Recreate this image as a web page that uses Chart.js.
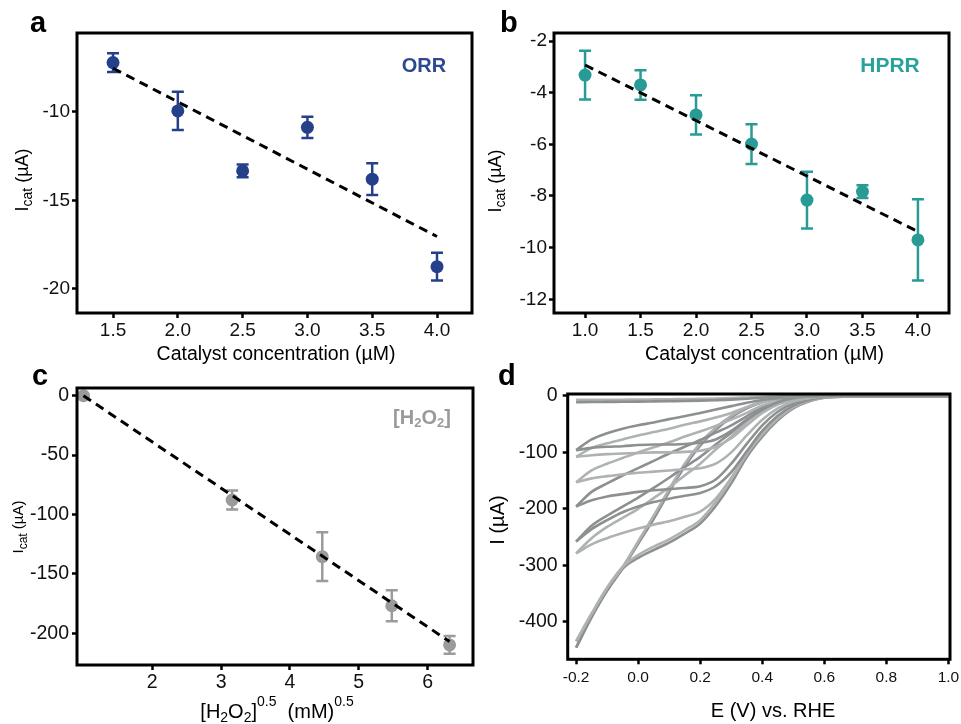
<!DOCTYPE html>
<html lang="en">
<head>
<meta charset="UTF-8">
<title>Catalytic current panels</title>
<script src="https://cdn.jsdelivr.net/npm/chart.js"></script>
<style>
    body { margin: 0; background: #fff; }
    #wrap { position: relative; width: 961px; height: 724px; }
    canvas { position: absolute; }
</style>
</head>
<body>
<div id="wrap">
    <canvas id="chartA" width="480" height="370" style="left:0;top:0"></canvas>
    <canvas id="chartB" width="481" height="370" style="left:480px;top:0"></canvas>
    <canvas id="chartC" width="480" height="362" style="left:0;top:362px"></canvas>
    <canvas id="chartD" width="481" height="362" style="left:480px;top:362px"></canvas>
</div>
<script>
const FONT = '"Liberation Sans", Arial, sans-serif';

// ---- panel a : ORR ----
const concA = [1.5, 2.0, 2.5, 3.0, 3.5, 4.0];
const icatA = [-7.21, -9.94, -13.33, -10.87, -13.80, -18.74];
const errA = [0.53, 1.08, 0.36, 0.6, 0.9, 0.78];
const fitXA = [1.5, 4.0];
const fitYA = [-7.53, -17.04];
const xTicksA = [1.5, 2.0, 2.5, 3.0, 3.5, 4.0];
const yTicksA = [-10, -15, -20];

// ---- panel b : HPRR ----
const concB = [1.0, 1.5, 2.0, 2.5, 3.0, 3.5, 4.0];
const icatB = [-3.32, -3.70, -4.86, -5.99, -8.16, -7.83, -9.70];
const errB = [0.94, 0.57, 0.76, 0.77, 1.1, 0.25, 1.57];
const fitXB = [1.0, 4.0];
const fitYB = [-2.93, -9.38];
const xTicksB = [1.0, 1.5, 2.0, 2.5, 3.0, 3.5, 4.0];
const yTicksB = [-2, -4, -6, -8, -10, -12];

// ---- panel c : [H2O2]^0.5 ----
const sqrtH2O2 = [1.0, 3.16, 4.47, 5.48, 6.32];
const icatC = [0, -87.8, -135.5, -176.8, -209.8];
const errC = [1, 8, 20.5, 13, 7.5];
const fitXC = [1.0, 6.32];
const fitYC = [0, -207];
const xTicksC = [2, 3, 4, 5, 6];
const yTicksC = [0, -50, -100, -150, -200];

// ---- panel d : cyclic voltammograms ----
const cvE = [-0.2, -0.15, -0.1, -0.05, 0, 0.05, 0.1, 0.15, 0.2, 0.25, 0.3, 0.35, 0.4, 0.45, 0.5, 0.55, 0.6, 0.8, 1.0];
const blankFwd = [-11, -10.8, -10.5, -10.2, -10, -9.6, -9.2, -8.8, -8.3, -7.5, -6.5, -5, -3, -1.5, -0.5, 0, 0, 0, 0];
const blankRev = [-7, -7, -6.8, -6.6, -6.4, -6.1, -5.8, -5.4, -5, -4.4, -3.6, -2.7, -1.8, -1, -0.5, 0, 0, 0, 0];
const cv1DarkFwd = [-96, -92, -90, -89, -87, -86, -86, -85, -83, -77, -62, -42, -24, -11, -4, -1, 0, 0, 0];
const cv1DarkRev = [-96, -77, -66, -58, -52, -47, -41, -36, -30, -24, -18, -12, -7, -4, -2, -1, 0, 0, 0];
const cv1LightFwd = [-108, -105, -103, -102, -101, -100, -100, -99, -97, -90, -75, -52, -30, -15, -7, -3, -1, 0, 0];
const cv1LightRev = [-108, -92, -84, -77, -70, -64, -58, -51, -45, -38, -30, -20, -11, -5, -2, -1, 0, 0, 0];
const cv2LightFwd = [-153, -146, -142, -139, -136, -134, -132, -130, -128, -120, -100, -70, -42, -22, -10, -4, -1, 0, 0];
const cv2LightRev = [-153, -132, -120, -110, -100, -91, -82, -72, -63, -53, -42, -30, -17, -9, -4, -1, 0, 0, 0];
const cv2DarkFwd = [-196, -185, -178, -174, -170, -167, -165, -163, -160, -148, -120, -85, -52, -28, -13, -5, -1, 0, 0];
const cv2DarkRev = [-196, -170, -155, -141, -128, -115, -102, -90, -78, -65, -52, -36, -20, -10, -5, -2, 0, 0, 0];
const cv3DarkFwd = [-258, -236, -220, -206, -196, -188, -182, -177, -172, -160, -135, -98, -62, -35, -17, -7, -2, 0, 0];
const cv3DarkRev = [-258, -230, -212, -196, -180, -163, -145, -126, -108, -86, -65, -42, -24, -12, -6, -2, 0, 0, 0];
const cv3LightFwd = [-279, -263, -252, -243, -235, -228, -222, -214, -205, -182, -145, -102, -66, -38, -19, -8, -2, 0, 0];
const cv3LightRev = [-279, -252, -232, -216, -200, -181, -162, -141, -120, -95, -72, -46, -26, -13, -7, -2, 0, 0, 0];
const cv4LightFwd = [-435, -386, -340, -303, -282, -267, -254, -238, -220, -188, -148, -103, -68, -40, -20, -9, -3, 0, 0];
const cv4LightRev = [-435, -386, -340, -303, -258, -212, -165, -120, -84, -56, -35, -20, -10, -5, -2, -1, 0, 0, 0];
const cv4DarkFwd = [-446, -392, -345, -306, -287, -273, -260, -244, -226, -195, -155, -108, -72, -43, -22, -10, -3, 0, 0];
const cv4DarkRev = [-446, -392, -345, -306, -262, -218, -170, -125, -88, -60, -38, -22, -11, -5, -3, -1, 0, 0, 0];
const xTicksD = [-0.2, 0, 0.2, 0.4, 0.6, 0.8, 1.0];
const yTicksD = [0, -100, -200, -300, -400];

const NAVY = '#25408b';
const TEAL = '#289b96';
const GREY = '#9b9b9b';
const CV_DARK = '#8d9091';
const CV_LIGHT = '#aeb2b2';

// draw a run of text pieces: [text, size, dy, weight]
function drawRich(ctx, parts, x, y, align) {
    let w = 0;
    parts.forEach(p => {
        ctx.font = (p[3] || 'normal') + ' ' + p[1] + 'px ' + FONT;
        w += ctx.measureText(p[0]).width;
    });
    let cx = align === 'center' ? x - w / 2 : x;
    parts.forEach(p => {
        ctx.font = (p[3] || 'normal') + ' ' + p[1] + 'px ' + FONT;
        ctx.fillText(p[0], cx, y + (p[2] || 0));
        cx += ctx.measureText(p[0]).width;
    });
}

const decor = {
    id: 'decor',
    beforeDatasetsDraw(chart, args, opts) {
        if (!opts.err) return;
        const ctx = chart.ctx, xs = chart.scales.x, ys = chart.scales.y;
        const e = opts.err;
        ctx.save();
        ctx.strokeStyle = e.color;
        ctx.lineWidth = 2.5;
        e.x.forEach((xv, i) => {
            const px = xs.getPixelForValue(xv);
            const top = ys.getPixelForValue(e.y[i] + e.e[i]);
            const bot = ys.getPixelForValue(e.y[i] - e.e[i]);
            ctx.beginPath();
            ctx.moveTo(px, top); ctx.lineTo(px, bot);
            ctx.moveTo(px - 6, top); ctx.lineTo(px + 6, top);
            ctx.moveTo(px - 6, bot); ctx.lineTo(px + 6, bot);
            ctx.stroke();
        });
        ctx.restore();
    },
    afterDraw(chart, args, opts) {
        const ctx = chart.ctx, a = chart.chartArea;
        ctx.save();
        ctx.strokeStyle = '#000';
        ctx.lineWidth = 3;
        ctx.strokeRect(a.left, a.top, a.right - a.left, a.bottom - a.top);
        ctx.textBaseline = 'alphabetic';
        ctx.fillStyle = '#000';
        ctx.font = 'bold 29px ' + FONT;
        ctx.fillText(opts.letter[0], opts.letter[1], opts.letter[2]);
        if (opts.tag) {
            ctx.fillStyle = opts.tag.color;
            drawRich(ctx, opts.tag.parts, opts.tag.x, opts.tag.y, 'center');
        }
        ctx.fillStyle = '#000';
        drawRich(ctx, opts.xTitle.parts, opts.xTitle.x, opts.xTitle.y, 'center');
        ctx.translate(opts.yTitle.x, opts.yTitle.y);
        ctx.rotate(-Math.PI / 2);
        drawRich(ctx, opts.yTitle.parts, 0, opts.yTitle.dy, 'center');
        ctx.restore();
    }
};

function axes(o) {
    const grid = { display: true, drawOnChartArea: false, drawTicks: true, tickLength: 5, tickWidth: 2.5, tickColor: '#000' };
    return {
        x: {
            type: 'linear', min: o.xmin, max: o.xmax,
            afterBuildTicks: s => { s.ticks = o.xticks.map(v => ({ value: v })); },
            afterFit: s => { s.height = o.xh; s.paddingLeft = 0; s.paddingRight = 0; },
            ticks: { callback: o.xfmt, color: '#111', font: { family: FONT, size: o.xfs }, padding: o.xpad, maxRotation: 0, autoSkip: false },
            grid: grid,
            border: { display: false }
        },
        y: {
            type: 'linear', min: o.ymin, max: o.ymax,
            afterBuildTicks: s => { s.ticks = o.yticks.map(v => ({ value: v })); },
            afterFit: s => { s.width = o.yw; s.paddingTop = 0; s.paddingBottom = 0; },
            ticks: { callback: v => String(v), color: '#111', font: { family: FONT, size: o.yfs }, padding: o.ypad, autoSkip: false },
            grid: grid,
            border: { display: false }
        }
    };
}

function pts(xs, ys) { return xs.map((x, i) => ({ x: x, y: ys[i] })); }

function errorChart(id, o) {
    return new Chart(document.getElementById(id), {
        type: 'scatter',
        data: {
            datasets: [
                { data: pts(o.fitX, o.fitY), showLine: true, borderColor: '#000', borderWidth: 3, borderDash: [9, 6], pointRadius: 0 },
                { data: pts(o.x, o.y), pointRadius: 6.5, pointBackgroundColor: o.color, pointBorderColor: o.color, pointBorderWidth: 0 }
            ]
        },
        options: {
            responsive: false, animation: false,
            layout: { padding: { left: 0, bottom: 0, top: o.top, right: o.right } },
            scales: axes(o),
            plugins: {
                legend: { display: false }, tooltip: { enabled: false },
                decor: { err: { x: o.x, y: o.y, e: o.err, color: o.color }, letter: o.letter, tag: o.tag, xTitle: o.xTitle, yTitle: o.yTitle }
            }
        },
        plugins: [decor]
    });
}

const fmt1 = v => v.toFixed(1);
const icatTitle = (s, sub) => [['I', s, 0], ['cat', sub, 4], [' (\u00b5A)', s, 0]];

errorChart('chartA', {
    x: concA, y: icatA, err: errA, fitX: fitXA, fitY: fitYA, color: NAVY,
    xmin: 1.222, xmax: 4.27, ymin: -21.36, ymax: -5.54, xticks: xTicksA, yticks: yTicksA,
    xfmt: fmt1, xfs: 19, yfs: 19, xpad: 1, ypad: 2, xh: 370 - 313, yw: 77, top: 33, right: 480 - 472,
    letter: ['a', 30, 32],
    tag: { color: '#2d4a90', x: 424, y: 72, parts: [['ORR', 20, 0, 'bold']] },
    xTitle: { x: 276, y: 360, parts: [['Catalyst concentration (\u00b5M)', 19.5, 0]] },
    yTitle: { x: 22, y: 180, dy: 6, parts: icatTitle(18, 14) }
});

errorChart('chartB', {
    x: concB, y: icatB, err: errB, fitX: fitXB, fitY: fitYB, color: TEAL,
    xmin: 0.72, xmax: 4.28, ymin: -12.53, ymax: -1.69, xticks: xTicksB, yticks: yTicksB,
    xfmt: fmt1, xfs: 19, yfs: 19, xpad: 1, ypad: 2, xh: 370 - 313, yw: 74, top: 33, right: 481 - 469,
    letter: ['b', 20, 32],
    tag: { color: '#2aa29c', x: 410, y: 72, parts: [['HPRR', 21, 0, 'bold']] },
    xTitle: { x: 284.5, y: 360, parts: [['Catalyst concentration (\u00b5M)', 19.5, 0]] },
    yTitle: { x: 15, y: 181, dy: 6, parts: icatTitle(18, 14) }
});

errorChart('chartC', {
    x: sqrtH2O2, y: icatC, err: errC, fitX: fitXC, fitY: fitYC, color: GREY,
    xmin: 0.906, xmax: 6.66, ymin: -226.7, ymax: 6.5, xticks: xTicksC, yticks: yTicksC,
    xfmt: v => String(v), xfs: 19.5, yfs: 19.5, xpad: 1, ypad: 3, xh: 362 - 303, yw: 77, top: 26, right: 480 - 473,
    letter: ['c', 32, 23],
    tag: { color: '#9a9a9a', x: 422, y: 62, parts: [['[H', 20, 0, 'bold'], ['2', 13, 3, 'bold'], ['O', 20, 0, 'bold'], ['2', 13, 3, 'bold'], [']', 20, 0, 'bold']] },
    xTitle: { x: 277, y: 356, parts: [['[H', 20, 0], ['2', 14, 4], ['O', 20, 0], ['2', 14, 4], [']', 20, 0], ['0.5', 14, -12], ['  (mM)', 20, 0], ['0.5', 14, -12]] },
    yTitle: { x: 18, y: 165, dy: 5, parts: icatTitle(15, 12) }
});

// panel d
const cvBranches = [
    [blankFwd, CV_DARK], [blankRev, CV_LIGHT],
    [cv1DarkFwd, CV_DARK], [cv1DarkRev, CV_DARK],
    [cv1LightFwd, CV_LIGHT], [cv1LightRev, CV_LIGHT],
    [cv2LightFwd, CV_LIGHT], [cv2LightRev, CV_LIGHT],
    [cv2DarkFwd, CV_DARK], [cv2DarkRev, CV_DARK],
    [cv3DarkFwd, CV_DARK], [cv3DarkRev, CV_DARK],
    [cv3LightFwd, CV_LIGHT], [cv3LightRev, CV_LIGHT],
    [cv4LightFwd, CV_LIGHT], [cv4LightRev, CV_LIGHT],
    [cv4DarkFwd, CV_DARK], [cv4DarkRev, CV_DARK]
];

const optsD = {
    xmin: -0.227, xmax: 1.005, ymin: -466.7, ymax: 3.5, xticks: xTicksD, yticks: yTicksD,
    xfmt: fmt1, xfs: 15.5, yfs: 19.5, xpad: 4, ypad: 5, xh: 362 - 297.3, yw: 87.7
};

new Chart(document.getElementById('chartD'), {
    type: 'scatter',
    data: {
        datasets: cvBranches.map(b => ({
            data: pts(cvE, b[0]), showLine: true, borderColor: b[1], borderWidth: 2.6,
            pointRadius: 0, cubicInterpolationMode: 'monotone'
        }))
    },
    options: {
        responsive: false, animation: false,
        layout: { padding: { left: 0, bottom: 0, top: 32, right: 481 - 470 } },
        scales: axes(optsD),
        plugins: {
            legend: { display: false }, tooltip: { enabled: false },
            decor: {
                letter: ['d', 18, 23],
                xTitle: { x: 293, y: 355, parts: [['E (V) vs. RHE', 20, 0]] },
                yTitle: { x: 17, y: 158, dy: 7, parts: [['I (\u00b5A)', 20, 0]] }
            }
        }
    },
    plugins: [decor]
});
</script>
</body>
</html>
